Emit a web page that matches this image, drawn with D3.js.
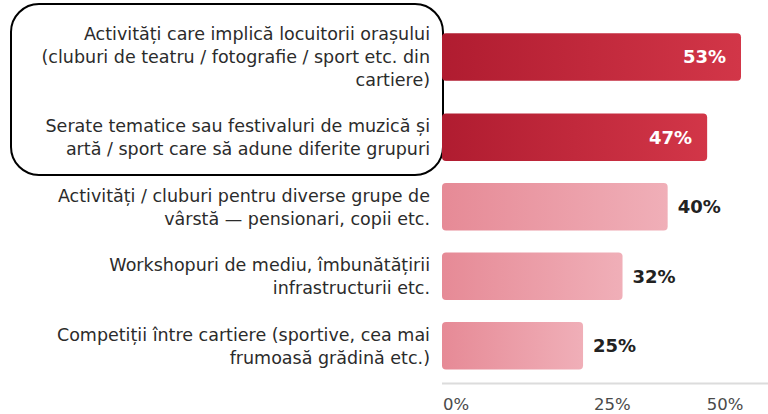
<!DOCTYPE html>
<html><head><meta charset="utf-8">
<script src="https://cdn.jsdelivr.net/npm/d3@7"></script>
<style>html,body{margin:0;padding:0;background:#fff;}svg{display:block;}</style>
</head><body>
<div id="chart"></div>
<script>
const categories = [
  ["Activități care implică locuitorii orașului", "(cluburi de teatru / fotografie / sport etc. din", "cartiere)"],
  ["Serate tematice sau festivaluri de muzică și", "artă / sport care să adune diferite grupuri"],
  ["Activități / cluburi pentru diverse grupe de", "vârstă — pensionari, copii etc."],
  ["Workshopuri de mediu, îmbunătățirii", "infrastructurii etc."],
  ["Competiții între cartiere (sportive, cea mai", "frumoasă grădină etc.)"]
];
const values = [53, 47, 40, 32, 25];
const highlighted = [true, true, false, false, false];
const tickValues = [0, 25, 50];
const tickLabels = ["0%", "25%", "50%"];

(function () {
const W = 768, H = 414;
const svg = d3.select("#chart").append("svg").attr("width", W).attr("height", H);
const defs = svg.append("defs");
function grad(id, c1, c2) {
  const g = defs.append("linearGradient").attr("id", id).attr("x1", "0%").attr("x2", "100%");
  g.append("stop").attr("offset", "0%").attr("stop-color", c1);
  g.append("stop").attr("offset", "100%").attr("stop-color", c2);
}
grad("gDark", "#b01c30", "#d23648");
grad("gLight", "#e68a96", "#f0afb8");

const x0 = 442;
const x = d3.scaleLinear().domain([0, 53]).range([x0, 741]);

const lineH = 23, gap = 22, barH = 47.5, topY = 22.5;
const centers = [];
let yCur = topY;
categories.forEach((c) => {
  const blockH = Math.max(c.length * lineH, barH);
  centers.push(yCur + blockH / 2);
  yCur += blockH + gap;
});

const font = "'DejaVu Sans', sans-serif";

svg.append("rect").attr("x", 11).attr("y", 4).attr("width", 432).attr("height", 171)
  .attr("rx", 28).attr("fill", "none").attr("stroke", "#000").attr("stroke-width", 2);

const rows = svg.selectAll("g.row").data(values).join("g").attr("class", "row");

rows.append("rect")
  .attr("x", x(0))
  .attr("y", (d, i) => centers[i] - barH / 2)
  .attr("width", d => x(d) - x(0))
  .attr("height", barH)
  .attr("rx", 4)
  .attr("fill", (d, i) => highlighted[i] ? "url(#gDark)" : "url(#gLight)");

rows.append("text")
  .attr("x", (d, i) => highlighted[i] ? x(d) - 15 : x(d) + 10)
  .attr("y", (d, i) => centers[i])
  .attr("dy", "0.36em")
  .attr("text-anchor", (d, i) => highlighted[i] ? "end" : "start")
  .attr("fill", (d, i) => highlighted[i] ? "#fff" : "#222")
  .attr("font-family", font).attr("font-size", 18).attr("font-weight", 700)
  .text(d => d + "%");

rows.each(function (d, i) {
  const lines = categories[i];
  const t = d3.select(this).append("text")
    .attr("text-anchor", "end")
    .attr("fill", "#2b2b2b")
    .attr("font-family", font).attr("font-size", 17.5);
  const startY = centers[i] - (lines.length - 1) * lineH / 2;
  lines.forEach((l, k) => {
    t.append("tspan").attr("x", 430).attr("y", startY + k * lineH).attr("dy", "0.36em").text(l);
  });
});

const axisY = 383.5;
svg.append("line").attr("x1", x0).attr("x2", W).attr("y1", axisY).attr("y2", axisY)
  .attr("stroke", "#dcdcdc").attr("stroke-width", 2);
const tickScale = d3.scaleLinear().domain([0, 25, 50]).range([x(0), x(30.2), x(50.2)]);
svg.selectAll("text.tick").data(tickValues).join("text").attr("class", "tick")
  .attr("x", d => d === 0 ? tickScale(d) + 1 : tickScale(d))
  .attr("y", 404).attr("dy", "0.36em")
  .attr("text-anchor", d => d === 0 ? "start" : "middle")
  .attr("fill", "#4a4a4a").attr("font-family", font).attr("font-size", 16.5)
  .text((d, i) => tickLabels[i]);
})();
</script>
</body></html>
